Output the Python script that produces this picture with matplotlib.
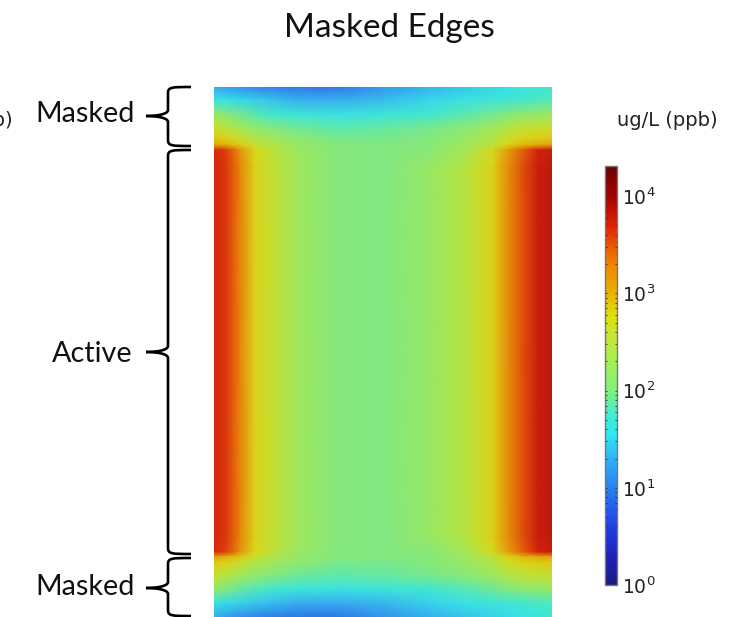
import numpy as np
import matplotlib
matplotlib.use("Agg")
import matplotlib.pyplot as plt
from matplotlib.colors import LinearSegmentedColormap, ListedColormap, LogNorm, Normalize
from matplotlib.cm import ScalarMappable
from matplotlib.patches import PathPatch
from matplotlib.path import Path

W, H = 730, 617

# log10(ug/L)
col_pos = [0, 12, 26, 41, 58, 85, 125, 170, 215, 250, 278, 293, 308, 324, 338]
row_pos = [0, 13, 28, 41, 51, 58, 63, 80, 263, 450, 465, 470, 476, 489, 502, 516, 530]
conc_log = [
    [1.28, 1.20, 1.12, 1.05, 1.00, 0.95, 0.95, 1.15, 1.32, 1.42, 1.50, 1.55, 1.60, 1.65, 1.70],
    [1.60, 1.55, 1.50, 1.45, 1.40, 1.30, 1.30, 1.38, 1.50, 1.60, 1.68, 1.72, 1.75, 1.80, 1.82],
    [2.25, 2.10, 1.95, 1.85, 1.75, 1.68, 1.62, 1.68, 1.75, 1.85, 1.95, 2.05, 2.15, 2.20, 2.25],
    [2.62, 2.50, 2.30, 2.15, 2.02, 1.92, 1.85, 1.88, 1.95, 2.08, 2.25, 2.42, 2.55, 2.60, 2.62],
    [2.85, 2.78, 2.60, 2.42, 2.25, 2.08, 1.95, 1.95, 2.02, 2.18, 2.42, 2.65, 2.78, 2.82, 2.85],
    [3.10, 3.00, 2.85, 2.60, 2.40, 2.18, 2.00, 1.98, 2.05, 2.25, 2.50, 2.78, 2.95, 3.05, 3.10],
    [3.72, 3.60, 3.20, 2.75, 2.52, 2.22, 2.02, 1.98, 2.05, 2.30, 2.70, 3.10, 3.45, 3.75, 3.82],
    [3.74, 3.64, 3.30, 2.80, 2.58, 2.25, 2.02, 1.98, 2.20, 2.45, 2.80, 3.20, 3.52, 3.80, 3.86],
    [3.74, 3.64, 3.30, 2.80, 2.58, 2.25, 2.02, 1.98, 2.20, 2.45, 2.80, 3.20, 3.52, 3.80, 3.86],
    [3.74, 3.64, 3.30, 2.80, 2.58, 2.25, 2.02, 1.98, 2.20, 2.45, 2.80, 3.20, 3.52, 3.80, 3.86],
    [3.72, 3.60, 3.20, 2.75, 2.52, 2.22, 2.02, 1.98, 2.05, 2.30, 2.70, 3.10, 3.45, 3.75, 3.82],
    [3.10, 3.00, 2.85, 2.60, 2.40, 2.18, 2.00, 1.98, 2.05, 2.25, 2.50, 2.78, 2.95, 3.05, 3.10],
    [2.85, 2.78, 2.60, 2.42, 2.25, 2.08, 1.95, 1.95, 2.02, 2.18, 2.42, 2.65, 2.78, 2.82, 2.85],
    [2.55, 2.42, 2.25, 2.12, 2.00, 1.90, 1.85, 1.88, 1.95, 2.05, 2.20, 2.38, 2.50, 2.55, 2.58],
    [2.15, 2.02, 1.90, 1.82, 1.72, 1.65, 1.60, 1.65, 1.72, 1.82, 1.92, 2.00, 2.10, 2.15, 2.20],
    [1.58, 1.52, 1.48, 1.42, 1.38, 1.28, 1.28, 1.35, 1.48, 1.58, 1.65, 1.70, 1.72, 1.78, 1.80],
    [1.30, 1.20, 1.10, 1.03, 0.98, 0.93, 0.93, 1.12, 1.30, 1.40, 1.48, 1.52, 1.58, 1.62, 1.68],
]

vmin, vmax = 1, 20400
cbar_colors = [
    (0.00, "#1a1a80"), (0.07, "#2020c0"), (0.14, "#2040e8"), (0.23, "#2880f0"),
    (0.30, "#30b0f8"), (0.36, "#30e8f0"), (0.41, "#40f0d0"), (0.46, "#80f080"),
    (0.54, "#a8f050"), (0.64, "#e0e010"), (0.70, "#e8b000"), (0.77, "#f08000"),
    (0.86, "#e02000"), (0.93, "#a80000"), (1.00, "#6a0000"),
]
cmap = LinearSegmentedColormap.from_list("conc", cbar_colors, N=512)
# the field itself is a bit duller than the colorbar
rgba = cmap(np.arange(512))
rgba[:, :3] = 0.92 * rgba[:, :3] + 0.08 * 0.55
field_cmap = ListedColormap(rgba)

def px_axes(fig, x0, y0, x1, y1):
    return fig.add_axes([x0 / W, 1 - y1 / H, (x1 - x0) / W, (y1 - y0) / H])

def draw_brace(ax, y0, y1, ymid, spine=168, tip=191, nose=146):
    r = 6
    codes = [Path.MOVETO, Path.CURVE4, Path.CURVE4, Path.CURVE4,
             Path.LINETO, Path.CURVE4, Path.CURVE4, Path.CURVE4]
    for yend, sign in [(y0, 1), (y1, -1)]:
        verts = [
            (tip, yend), (spine + 4, yend), (spine, yend), (spine, yend + sign * r),
            (spine, ymid - sign * r), (spine, ymid - sign * 2), (nose + 12, ymid), (nose, ymid),
        ]
        ax.add_patch(PathPatch(Path(verts, codes), fc="none", ec="black", lw=1.9))

fig = plt.figure(figsize=(W / 100, H / 100), dpi=100)

ax = px_axes(fig, 214, 87, 552, 617)
ax.pcolormesh(col_pos, row_pos, np.array(conc_log), shading="gouraud", cmap=field_cmap,
              norm=Normalize(np.log10(vmin), np.log10(vmax)))
ax.set_xlim(0, 338)
ax.set_ylim(530, 0)
ax.axis("off")

cax = px_axes(fig, 605, 166, 617, 585)
cb = fig.colorbar(ScalarMappable(norm=LogNorm(vmin, vmax), cmap=cmap), cax=cax)
cb.outline.set_edgecolor("#777777")
cb.outline.set_linewidth(1.0)
cb.set_ticks([1, 10, 100, 1000, 10000])
cax.tick_params(which="major", direction="in", length=1.5, width=0.6, left=True, right=True,
                labelsize=13.5, labelcolor="#222222", pad=3.5, color="#222222")
cax.tick_params(which="minor", direction="in", length=1.5, width=0.6, left=True, right=True,
                color="#222222")

over = fig.add_axes([0, 0, 1, 1])
over.set_xlim(0, W)
over.set_ylim(H, 0)
over.axis("off")
over.patch.set_alpha(0)

draw_brace(over, 87, 146, 116)
draw_brace(over, 150, 554, 352)
draw_brace(over, 558, 616, 588)

label_font = "Lato"
over.text(389, 28, "Masked Edges", ha="center", va="center", fontsize=24, family=label_font, color="#111111")
over.text(135, 114, "Masked", ha="right", va="center", fontsize=20.7, family=label_font, color="#111111")
over.text(133, 354, "Active", ha="right", va="center", fontsize=20.7, family=label_font, color="#111111")
over.text(135, 587, "Masked", ha="right", va="center", fontsize=20.7, family=label_font, color="#111111")
over.text(667, 120, "ug/L (ppb)", ha="center", va="center", fontsize=14, color="#222222")
over.text(13, 120, "ug/L (ppb)", ha="right", va="center", fontsize=14, color="#222222")

fig.savefig("out.png", dpi=100)
